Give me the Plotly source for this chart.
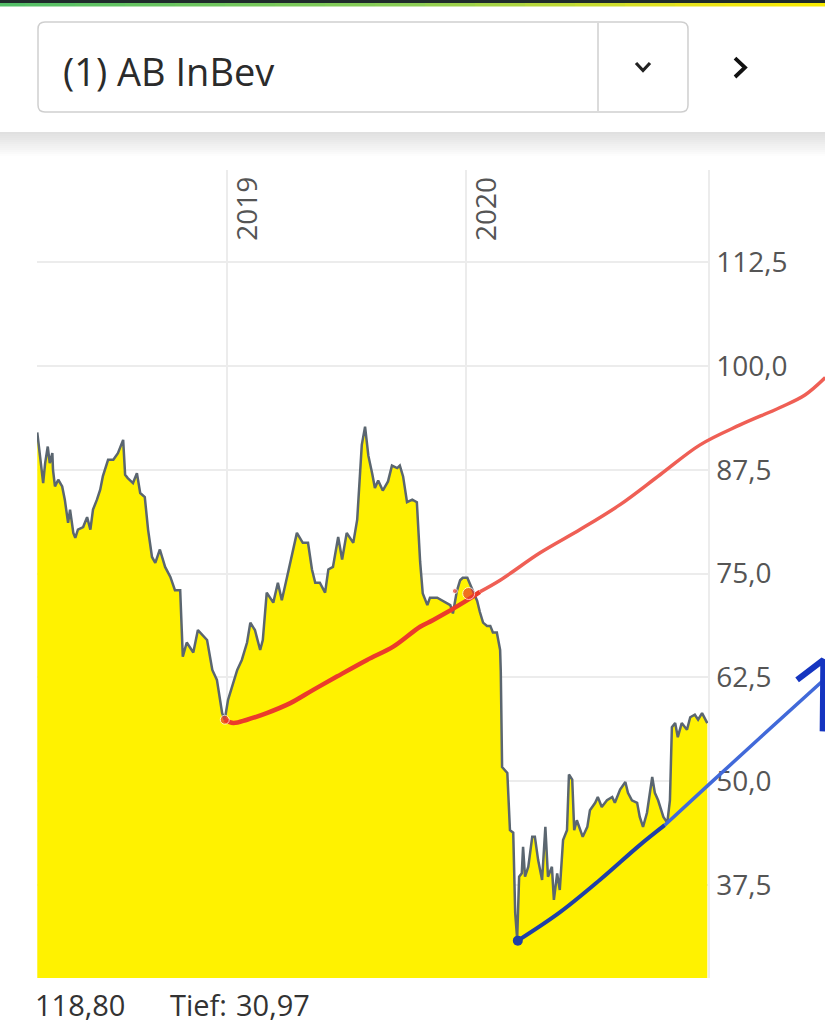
import plotly.graph_objects as go
import pandas as pd

# ---------------- data ----------------
price_dates = [
    "2018-03-18", "2018-03-27", "2018-03-30", "2018-04-03", "2018-04-06", "2018-04-10", "2018-04-11",
    "2018-04-14", "2018-04-19", "2018-04-25", "2018-04-29", "2018-05-04", "2018-05-07", "2018-05-12",
    "2018-05-15", "2018-05-19", "2018-05-27", "2018-06-02", "2018-06-07", "2018-06-11", "2018-06-17",
    "2018-06-22", "2018-06-26", "2018-07-04", "2018-07-12", "2018-07-19", "2018-07-27", "2018-07-30",
    "2018-08-03", "2018-08-11", "2018-08-17", "2018-08-22", "2018-08-29", "2018-09-03", "2018-09-09",
    "2018-09-14", "2018-09-21", "2018-09-29", "2018-10-07", "2018-10-14", "2018-10-22", "2018-10-26",
    "2018-11-01", "2018-11-11", "2018-11-18", "2018-12-02", "2018-12-10", "2018-12-17", "2018-12-25",
    "2018-12-29", "2019-01-03", "2019-01-09", "2019-01-17", "2019-01-24", "2019-02-01", "2019-02-06",
    "2019-02-13", "2019-02-21", "2019-02-25", "2019-03-03", "2019-03-13", "2019-03-20", "2019-03-26",
    "2019-04-03", "2019-04-11", "2019-04-18", "2019-04-27", "2019-05-05", "2019-05-11", "2019-05-16",
    "2019-05-23", "2019-05-31", "2019-06-05", "2019-06-12", "2019-06-20", "2019-06-26", "2019-07-03",
    "2019-07-13", "2019-07-19", "2019-07-23", "2019-07-26", "2019-07-31", "2019-08-05", "2019-08-11",
    "2019-08-15", "2019-08-20", "2019-08-27", "2019-09-04", "2019-09-10", "2019-09-18", "2019-09-22",
    "2019-09-27", "2019-10-03", "2019-10-11", "2019-10-18", "2019-10-23", "2019-10-27", "2019-11-03",
    "2019-11-07", "2019-11-18", "2019-11-27", "2019-12-08", "2019-12-12", "2019-12-18", "2019-12-23",
    "2019-12-27", "2020-01-03", "2020-01-07", "2020-01-12", "2020-01-18", "2020-01-22", "2020-01-27",
    "2020-02-02", "2020-02-07", "2020-02-11", "2020-02-17", "2020-02-22", "2020-02-23", "2020-02-25",
    "2020-03-04", "2020-03-08", "2020-03-13", "2020-03-16", "2020-03-19", "2020-03-22", "2020-03-26",
    "2020-03-28", "2020-03-31", "2020-04-05", "2020-04-11", "2020-04-15", "2020-04-20", "2020-04-26",
    "2020-05-01", "2020-05-05", "2020-05-11", "2020-05-14", "2020-05-19", "2020-05-23", "2020-05-28",
    "2020-06-03", "2020-06-06", "2020-06-11", "2020-06-14", "2020-06-18", "2020-06-23", "2020-06-27",
    "2020-07-04", "2020-07-08", "2020-07-16", "2020-07-20", "2020-07-26", "2020-08-03", "2020-08-11",
    "2020-08-15", "2020-08-23", "2020-08-31", "2020-09-04", "2020-09-10", "2020-09-18", "2020-09-22",
    "2020-09-27", "2020-10-03", "2020-10-11", "2020-10-15", "2020-10-20", "2020-10-28", "2020-11-03",
    "2020-11-07", "2020-11-10", "2020-11-15", "2020-11-19", "2020-11-25", "2020-12-03", "2020-12-08",
    "2020-12-15", "2020-12-20", "2020-12-26", "2021-01-03",
]
price_values = [
    92.0, 85.9, 88.3, 90.3, 88.3, 89.5, 87.5,
    85.5, 86.3, 85.5, 83.9, 81.1, 82.7, 79.9,
    79.3, 80.3, 80.6, 81.8, 80.3, 82.7, 83.9,
    85.1, 86.7, 88.7, 88.7, 89.5, 91.1, 86.9,
    86.5, 85.9, 87.1, 84.7, 84.2, 80.3, 77.0,
    76.3, 77.9, 75.8, 74.6, 73.0, 73.0, 65.0,
    66.7, 65.5, 68.2, 67.0, 63.4, 62.2, 58.2,
    57.4, 59.8, 61.4, 63.4, 64.6, 66.7, 69.1,
    68.2, 65.8, 67.0, 72.7, 71.5, 73.9, 71.8,
    74.6, 77.5, 79.9, 78.7, 78.7, 75.5, 73.9,
    73.9, 72.7, 75.5, 75.8, 79.4, 76.7, 79.9,
    78.7, 81.5, 86.3, 90.5, 92.7, 89.2, 87.0,
    85.3, 86.2, 85.0, 86.1, 88.0, 87.7, 88.0,
    86.7, 83.6, 83.9, 83.6, 76.4, 72.6, 71.2,
    72.1, 72.1, 71.7, 71.2, 70.2, 72.9, 74.2,
    74.5, 74.5, 73.8, 72.9, 71.7, 70.4, 69.1,
    68.7, 68.7, 67.9, 67.9, 65.8, 63.2, 51.7,
    51.0, 44.1, 43.8, 34.1, 31.0, 38.5, 38.9,
    42.1, 38.5, 39.7, 43.3, 43.3, 40.5, 38.1,
    44.5, 38.5, 39.7, 35.7, 38.9, 36.9, 42.9,
    44.1, 50.8, 50.2, 44.1, 45.3, 44.1, 43.3,
    44.5, 46.5, 47.4, 48.1, 46.9, 47.7, 48.1,
    47.4, 49.0, 49.9, 48.6, 47.7, 47.4, 45.7,
    44.5, 46.2, 50.5, 48.6, 47.7, 45.7, 45.0,
    47.7, 56.5, 57.0, 55.3, 57.0, 56.2, 57.7,
    58.0, 57.4, 58.2, 57.0,
]

# hand-drawn trend lines (drawn on the screenshot)
red_low_dates = ["2018-12-29", "2019-01-11", "2019-02-01", "2019-03-03", "2019-04-08", "2019-05-13",
                 "2019-06-18", "2019-08-03", "2019-09-12", "2019-10-23", "2019-11-12", "2020-01-03",
                 "2020-01-22"]
red_low_values = [57.4, 57.0, 57.4, 58.2, 59.4, 61.0, 62.6, 64.6, 66.2, 68.6, 69.4, 71.8, 72.8]
red_high_dates = ["2020-01-22", "2020-02-22", "2020-04-23", "2020-06-23", "2020-08-23", "2020-10-23",
                  "2020-12-23", "2021-02-22", "2021-04-24", "2021-06-01", "2021-07-02"]
red_high_values = [72.8, 74.2, 77.5, 80.3, 83.3, 86.9, 90.5, 92.9, 95.0, 96.5, 98.6]
red_dot_dates = ["2018-12-29", "2019-12-15", "2020-01-05"]
red_dot_values = [57.4, 72.9, 72.6]
red_dot_sizes = [9, 5, 12]

blue_low_dates = ["2020-03-20", "2020-05-23", "2020-07-23", "2020-09-22", "2020-10-30"]
blue_low_values = [30.8, 34.2, 38.1, 42.3, 44.7]
blue_high_dates = ["2020-10-30", "2021-01-04", "2021-03-24", "2021-06-27"]
blue_high_values = [44.7, 49.5, 55.2, 62.0]
arrow_dates = ["2021-05-20", "2021-06-29", "2021-06-28"]
arrow_values = [62.2, 64.6, 56.0]

year_ticks = ["2019-01-01", "2020-01-01"]
year_labels = ["2019", "2020"]
hoch_text, tief_text = "118,80", "30,97"
title_text = "(1) AB InBev"

# ---------------- layout helpers ----------------
W, H = 825, 1024
ML, MR, MT, MB = 37, 0, 170, 46
PW, PH = W - ML - MR, H - MT - MB
X_START = pd.Timestamp("2018-03-17 14:00")
X_END = pd.Timestamp("2021-01-04 02:00")
MAIN_DOM = (708 - ML) / PW
X2_END = X_START + (X_END - X_START) / MAIN_DOM
Y_RANGE = [26.3, 123.6]
FONT = "Open Sans"


def px(x):
    return (x - ML) / PW


def py(y):
    return (H - MB - y) / PH


fig = go.Figure()

fig.add_trace(go.Scatter(
    x=price_dates, y=price_values, mode="lines", fill="tozeroy",
    fillcolor="#FFF200", line=dict(color="#5b6670", width=2.5),
    xaxis="x", yaxis="y", hoverinfo="skip"))

# overlay drawing layer
fig.add_trace(go.Scatter(x=red_low_dates, y=red_low_values, mode="lines",
                         line=dict(color="#eb3b2b", width=4.5, shape="spline"),
                         xaxis="x2", yaxis="y2"))
fig.add_trace(go.Scatter(x=red_high_dates, y=red_high_values, mode="lines",
                         line=dict(color="#ef5f55", width=3.5, shape="spline"),
                         xaxis="x2", yaxis="y2"))
fig.add_trace(go.Scatter(x=red_dot_dates, y=red_dot_values, mode="markers",
                         marker=dict(color="#eb3b2b", size=red_dot_sizes),
                         xaxis="x2", yaxis="y2"))
fig.add_trace(go.Scatter(x=blue_low_dates, y=blue_low_values, mode="lines",
                         line=dict(color="#1f3fa8", width=4, shape="spline"),
                         xaxis="x2", yaxis="y2"))
fig.add_trace(go.Scatter(x=blue_high_dates, y=blue_high_values, mode="lines",
                         line=dict(color="#4169d9", width=3.5, shape="spline"),
                         xaxis="x2", yaxis="y2"))
fig.add_trace(go.Scatter(x=blue_low_dates[:1], y=blue_low_values[:1], mode="markers",
                         marker=dict(color="#1f3fa8", size=10),
                         xaxis="x2", yaxis="y2"))
fig.add_trace(go.Scatter(x=arrow_dates, y=arrow_values, mode="lines",
                         line=dict(color="#1535c0", width=6),
                         xaxis="x2", yaxis="y2"))

shapes = []
# top gradient bar
shapes.append(dict(type="rect", xref="paper", yref="paper", x0=px(0), x1=px(W), y0=py(0), y1=py(3),
                   fillcolor="#1f2b2b", line_width=0, layer="above"))
stops = [(0.0, (82, 190, 104)), (0.5, (140, 205, 85)), (0.85, (235, 228, 25)), (1.0, (250, 236, 0))]
N = 33
for i in range(N):
    t = (i + 0.5) / N
    for j in range(len(stops) - 1):
        if stops[j][0] <= t <= stops[j + 1][0]:
            a, ca = stops[j]
            b, cb = stops[j + 1]
            f = (t - a) / (b - a)
            c = tuple(int(ca[k] + (cb[k] - ca[k]) * f) for k in range(3))
            break
    shapes.append(dict(type="rect", xref="paper", yref="paper",
                       x0=px(W * i / N), x1=px(W * (i + 1) / N), y0=py(3), y1=py(6.5),
                       fillcolor="rgb(%d,%d,%d)" % c, line_width=0, layer="above"))
# header shadow
for k in range(12):
    alpha = 0.16 * (1 - k / 12)
    shapes.append(dict(type="rect", xref="paper", yref="paper", x0=px(0), x1=px(W),
                       y0=py(132 + 2 * k), y1=py(132 + 2 * (k + 1)),
                       fillcolor="rgba(60,60,60,%.3f)" % alpha, line_width=0, layer="above"))

# dropdown box with rounded corners
r = 7
x0b, x1b, y0b, y1b = 38, 688, 22, 112


def P(x, y):
    return "%.5f,%.5f" % (px(x), py(y))


path = ("M " + P(x0b + r, y0b) + " L " + P(x1b - r, y0b) + " Q " + P(x1b, y0b) + " " + P(x1b, y0b + r) +
        " L " + P(x1b, y1b - r) + " Q " + P(x1b, y1b) + " " + P(x1b - r, y1b) +
        " L " + P(x0b + r, y1b) + " Q " + P(x0b, y1b) + " " + P(x0b, y1b - r) +
        " L " + P(x0b, y0b + r) + " Q " + P(x0b, y0b) + " " + P(x0b + r, y0b) + " Z")
shapes.append(dict(type="path", xref="paper", yref="paper", path=path,
                   fillcolor="white", line=dict(color="#cfcfcf", width=1.5), layer="above"))
shapes.append(dict(type="line", xref="paper", yref="paper", x0=px(598), x1=px(598), y0=py(23), y1=py(111),
                   line=dict(color="#cfcfcf", width=1.5), layer="above"))
# chevron down
shapes.append(dict(type="path", xref="paper", yref="paper",
                   path="M " + P(636, 63) + " L " + P(643, 70.5) + " L " + P(650, 63),
                   line=dict(color="#222222", width=3.2), layer="above"))
# chevron right
shapes.append(dict(type="path", xref="paper", yref="paper",
                   path="M " + P(735, 58) + " L " + P(745, 67.5) + " L " + P(735, 77),
                   line=dict(color="#111111", width=3.8), layer="above"))

annotations = [
    dict(text=title_text, xref="paper", yref="paper", x=px(61), y=py(71), xanchor="left", yanchor="middle",
         showarrow=False, font=dict(family=FONT, size=38, color="#2b2b2b")),
    dict(text=hoch_text, xref="paper", yref="paper", x=px(33), y=py(1005), xanchor="left", yanchor="middle",
         showarrow=False, font=dict(family=FONT, size=29, color="#333333")),
    dict(text="Tief:", xref="paper", yref="paper", x=px(168), y=py(1005), xanchor="left", yanchor="middle",
         showarrow=False, font=dict(family=FONT, size=29, color="#333333")),
    dict(text=tief_text, xref="paper", yref="paper", x=px(234), y=py(1005), xanchor="left", yanchor="middle",
         showarrow=False, font=dict(family=FONT, size=29, color="#333333")),
]
for d, lab in zip(year_ticks, year_labels):
    annotations.append(dict(text=lab, xref="x", yref="paper", x=d, y=1, xanchor="left", yanchor="top",
                            textangle=-90, xshift=-2, yshift=-5, showarrow=False,
                            font=dict(family=FONT, size=28, color="#555555")))

fig.update_layout(
    width=W, height=H, margin=dict(l=ML, r=MR, t=MT, b=MB, pad=0),
    paper_bgcolor="white", plot_bgcolor="rgba(0,0,0,0)",
    showlegend=False, separators=", ",
    shapes=shapes, annotations=annotations,
    xaxis=dict(domain=[0, MAIN_DOM], range=[X_START, X_END], type="date",
               tickvals=year_ticks, showticklabels=False, ticks="",
               showgrid=True, gridcolor="#ececec", gridwidth=1.5, zeroline=False, showline=False,
               anchor="y"),
    yaxis=dict(domain=[0, 1], range=Y_RANGE, side="right", anchor="x",
               tick0=37.5, dtick=12.5, tickformat=".1f",
               showgrid=True, gridcolor="#ececec", gridwidth=1.5, zeroline=False,
               showline=True, linecolor="#ececec", linewidth=1.5,
               ticks="outside", ticklen=1, tickcolor="rgba(0,0,0,0)",
               tickfont=dict(family=FONT, size=28, color="#555555")),
    xaxis2=dict(domain=[0, 1], range=[X_START, X2_END], type="date", visible=False, anchor="y2"),
    yaxis2=dict(domain=[0, 1], range=Y_RANGE, visible=False, anchor="x2"),
)

fig.write_html("out.html", config={"displayModeBar": False},
               post_script="document.body.style.margin='0';")
